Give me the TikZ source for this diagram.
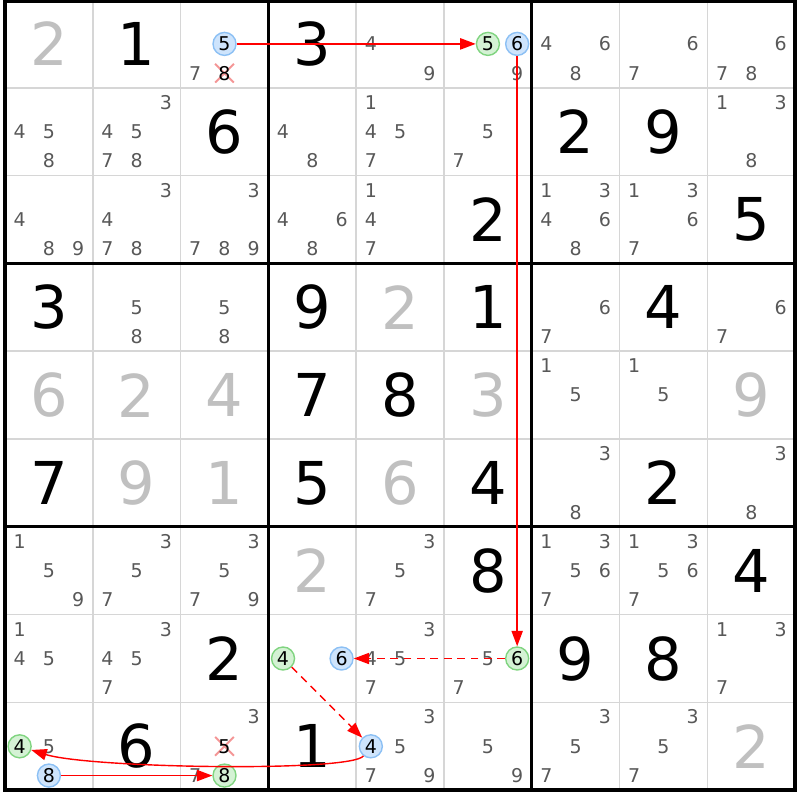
\documentclass[tikz,border=0pt]{standalone}
\usepackage{fontspec}
\setmainfont{DejaVu Sans}
\usetikzlibrary{arrows.meta,shapes.misc}
\definecolor{givengray}{RGB}{192,192,192}
\definecolor{candgray}{RGB}{88,88,88}
\definecolor{gridgray}{RGB}{214,214,214}
\definecolor{bluefill}{RGB}{206,228,252}
\definecolor{blueline}{RGB}{140,192,244}
\definecolor{greenfill}{RGB}{212,242,212}
\definecolor{greenline}{RGB}{128,212,128}
\definecolor{xpink}{RGB}{244,150,150}

\begin{document}
\begin{tikzpicture}[x=0.025cm, y=-0.025cm,
  cand/.style={inner sep=0pt, font=\fontsize{13.5pt}{15pt}\selectfont, text=candgray},
  big/.style={inner sep=0pt, font=\fontsize{42pt}{48pt}\selectfont, text=black},
  given/.style={big, text=givengray},
  blu/.style={circle, inner sep=0pt, minimum size=0.575cm, fill=bluefill, draw=blueline, line width=1pt, font=\fontsize{13.5pt}{15pt}\selectfont},
  grn/.style={blu, fill=greenfill, draw=greenline},
  xmark/.style={cross out, draw=xpink, line width=1.4pt, minimum size=0.42cm, inner sep=0pt},
  lnk/.style={-{Triangle[length=11pt,width=8pt]}, red, line width=1pt},
  weak/.style={lnk, dash pattern=on 5.5pt off 4pt}
]
\useasboundingbox (0,0) rectangle (800,800);

% candidate spots, p<row><col><digit>
\foreach \r in {1,...,9}
  \foreach \c in {1,...,9}
    \foreach \d in {1,...,9} {
      \pgfmathsetmacro\px{5+(\c-1)*87.8+(mod(\d-1,3)+0.5)*29.267}
      \pgfmathsetmacro\py{(\r-1)*87.8+(floor((\d-1)/3)+0.5)*29.267}
      \coordinate (p\r\c\d) at (\px,\py);
    }

% grid
\foreach \i in {1,...,8} {
  \draw[gridgray, line width=1.1pt] (5+\i*87.8,0) -- (5+\i*87.8,790);
  \draw[gridgray, line width=1.1pt] (5,\i*87.8) -- (795,\i*87.8);
}
\foreach \i in {3,6} {
  \draw[line width=2.2pt] (5+\i*87.8,0) -- (5+\i*87.8,790);
  \draw[line width=2.2pt] (5,\i*87.8) -- (795,\i*87.8);
}
\draw[line width=2.2pt] (5,1.5) rectangle (795,790);

% givens and solved cells
\foreach \r/\c/\d in {1/1/2, 4/5/2, 5/1/6, 5/2/2, 5/3/4, 5/6/3, 5/9/9,
  6/2/9, 6/3/1, 6/5/6, 7/4/2, 9/9/2}
  \node[given] (s\r\c) at (p\r\c5) {\d};
\foreach \r/\c/\d in {1/2/1, 1/4/3, 2/3/6, 2/7/2, 2/8/9, 3/6/2, 3/9/5,
  4/1/3, 4/4/9, 4/6/1, 4/8/4, 5/4/7, 5/5/8, 6/1/7, 6/4/5, 6/6/4, 6/8/2,
  7/6/8, 7/9/4, 8/3/2, 8/7/9, 8/8/8, 9/2/6, 9/4/1}
  \node[big] (s\r\c) at (p\r\c5) {\d};

% pencil marks
\foreach \r/\c/\ds in {1/3/{7}, 1/5/{4,9}, 1/6/{9}, 1/7/{4,6,8}, 1/8/{6,7},
  1/9/{6,7,8}, 2/1/{4,5,8}, 2/2/{3,4,5,7,8}, 2/4/{4,8}, 2/5/{1,4,5,7},
  2/6/{5,7}, 2/9/{1,3,8}, 3/1/{4,8,9}, 3/2/{3,4,7,8}, 3/3/{3,7,8,9},
  3/4/{4,6,8}, 3/5/{1,4,7}, 3/7/{1,3,4,6,8}, 3/8/{1,3,6,7}, 4/2/{5,8},
  4/3/{5,8}, 4/7/{6,7}, 4/9/{6,7}, 5/7/{1,5}, 5/8/{1,5}, 6/7/{3,8},
  6/9/{3,8}, 7/1/{1,5,9}, 7/2/{3,5,7}, 7/3/{3,5,7,9}, 7/5/{3,5,7},
  7/7/{1,3,5,6,7}, 7/8/{1,3,5,6,7}, 8/1/{1,4,5}, 8/2/{3,4,5,7},
  8/5/{3,4,5,7}, 8/6/{5,7}, 8/9/{1,3,7}, 9/1/{5}, 9/3/{3,7},
  9/5/{3,5,7,9}, 9/6/{5,9}, 9/7/{3,5,7}, 9/8/{3,5,7}}
  \foreach \d in \ds
    \node[cand] (n\r\c\d) at (p\r\c\d) {\d};

% eliminations
\node[xmark] (x138) at (p138) {};
\node[cand, text=black] (n138) at (p138) {8};
\node[xmark] (x935) at (p935) {};
\node[cand, text=black] (n935) at (p935) {5};

% chain
\node[blu] (b135) at (p135) {5};
\node[grn] (g165) at (p165) {5};
\node[blu] (b166) at (p166) {6};
\node[grn] (g866) at (p866) {6};
\node[blu] (b846) at (p846) {6};
\node[grn] (g844) at (p844) {4};
\node[blu] (b954) at (p954) {4};
\node[grn] (g914) at (p914) {4};
\node[blu] (b918) at (p918) {8};
\node[grn] (g938) at (p938) {8};

\draw[lnk] (b135) -- (g165);
\draw[lnk] (b166) -- (g866);
\draw[weak] (g866) -- (b846);
\draw[weak] (g844) -- (b954);
\draw[lnk] (b954) .. controls +(-20,26) and +(70,22) .. (g914);
\draw[lnk] (b918) -- (g938);
\end{tikzpicture}
\end{document}
